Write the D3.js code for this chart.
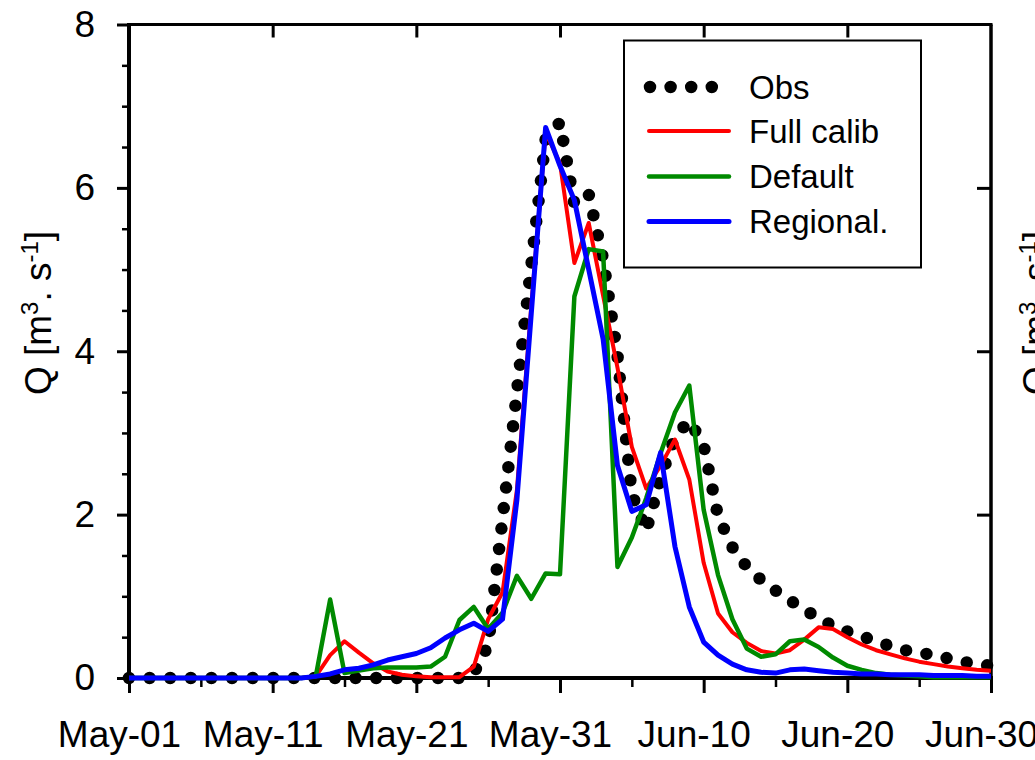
<!DOCTYPE html>
<html><head><meta charset="utf-8">
<script src="https://cdn.jsdelivr.net/npm/d3@7"></script>
<style>
body{margin:0;background:#fff}
svg{display:block}
text{font-family:"Liberation Sans",Arial,Helvetica,sans-serif;fill:#000}
</style>
</head><body>
<svg id="c" width="1035" height="760"></svg>
<script>
// ---- data (daily, May-01 .. Jun-30) ----
const startDate = new Date(2010, 4, 1);
const obs = [0,0,0,0,0,0,0,0,0,0,0,0,0,0,0,0,0,0,0,0,0,0,0,0,
  0.06,0.4,1.95,3.5,5.05,6.6,6.8,5.8,5.92,5.13,3.95,2.25,1.8,2.45,2.95,3.15,2.85,1.98,1.6,1.36,
  1.2,1.07,0.95,0.84,0.73,0.64,0.57,0.51,0.45,0.39,0.34,0.31,0.28,0.24,0.2,0.17,0.15];
const fullCalib = [0,0,0,0,0,0,0,0,0,0,0,0,0,
  0.02,0.28,0.45,0.31,0.18,0.08,0.04,0.02,0.01,0.01,0.01,0.14,0.72,1.05,2.3,4.55,6.68,6.3,5.08,5.57,4.68,
  3.8,2.83,2.32,2.6,2.92,2.43,1.41,0.79,0.56,0.43,0.33,0.3,0.34,0.47,0.62,0.6,0.5,0.41,0.34,0.29,0.24,
  0.2,0.17,0.14,0.12,0.1,0.09];
const defaultRun = [0,0,0,0,0,0,0,0,0,0,0,0,0,
  0.02,0.96,0.06,0.09,0.12,0.13,0.13,0.13,0.14,0.26,0.71,0.87,0.6,0.8,1.25,0.97,1.28,1.27,4.67,5.25,5.22,
  1.36,1.72,2.2,2.75,3.25,3.58,2.06,1.26,0.72,0.36,0.26,0.29,0.45,0.47,0.38,0.25,0.15,0.1,0.06,0.04,0.03,
  0.02,0.01,0.01,0.01,0.01,0.01];
const regional = [0,0,0,0,0,0,0,0,0,0,0,0,0,
  0.02,0.05,0.1,0.12,0.16,0.22,0.26,0.3,0.37,0.49,0.59,0.67,0.57,0.72,2.18,4.46,6.74,6.27,5.85,5.0,4.15,
  2.6,2.04,2.12,2.76,1.61,0.87,0.44,0.28,0.17,0.1,0.07,0.06,0.1,0.11,0.09,0.07,0.06,0.05,0.05,0.04,0.04,
  0.04,0.03,0.03,0.03,0.02,0.02];
const seriesNames = ["Obs", "Full calib", "Default", "Regional."];
const xTickLabels = ["May-01", "May-11", "May-21", "May-31", "Jun-10", "Jun-20", "Jun-30"];
const yTicks = [0, 2, 4, 6, 8];

// ---- layout ----
const dates = d3.range(obs.length).map(i => d3.timeDay.offset(startDate, i));
const L = 129, R = 991, T = 24.5, B = 678;
const svg = d3.select("#c");
const x = d3.scaleTime().domain([startDate, d3.timeDay.offset(startDate, 60)]).range([L, R]);
const y = d3.scaleLinear().domain([0, 8]).range([B, T]);
const majorDates = d3.range(0, 61, 10).map(i => d3.timeDay.offset(startDate, i));
const minorDates = d3.range(5, 61, 10).map(i => d3.timeDay.offset(startDate, i));
const minorY = d3.range(0, 8.01, 0.5).filter(v => v % 2 !== 0);

function styleAxis(g, w) {
  g.select(".domain").remove();
  g.selectAll(".tick line").attr("stroke", "#000").attr("stroke-width", w);
}

// left axis
svg.append("g").attr("transform", `translate(${L},0)`)
  .call(d3.axisLeft(y).tickValues(yTicks).tickSize(12).tickPadding(22).tickFormat(d3.format("d")))
  .call(g => { styleAxis(g, 3); g.selectAll("text").attr("font-size", 37).attr("dy", "0.32em")
      .style("font-family", '"Liberation Sans",Arial,sans-serif'); });
svg.append("g").attr("transform", `translate(${L},0)`)
  .call(d3.axisLeft(y).tickValues(minorY).tickSize(7).tickFormat(""))
  .call(g => styleAxis(g, 2.5));
// right axis (inward)
svg.append("g").attr("transform", `translate(${R},0)`)
  .call(d3.axisLeft(y).tickValues([2, 4, 6]).tickSize(14).tickFormat(""))
  .call(g => styleAxis(g, 3));
// bottom axis
svg.append("g").attr("transform", `translate(0,${B})`)
  .call(d3.axisBottom(x).tickValues(majorDates).tickSize(15).tickFormat((d, i) => xTickLabels[i]))
  .call(g => { styleAxis(g, 3); g.selectAll("text").attr("font-size", 37).attr("y", 69).attr("dy", 0).attr("dx", -10)
      .style("font-family", '"Liberation Sans",Arial,sans-serif'); });
svg.append("g").attr("transform", `translate(0,${B})`)
  .call(d3.axisBottom(x).tickValues(minorDates).tickSize(9).tickFormat(""))
  .call(g => styleAxis(g, 2.5));
// top axis (inward)
svg.append("g").attr("transform", `translate(0,${T})`)
  .call(d3.axisBottom(x).tickValues(majorDates.slice(1, -1)).tickSize(13).tickFormat(""))
  .call(g => styleAxis(g, 3));

// frame
svg.append("line").attr("x1", L).attr("x2", L).attr("y1", T - 1.5).attr("y2", B + 2).attr("stroke", "#000").attr("stroke-width", 4);
svg.append("line").attr("x1", L - 2).attr("x2", R + 2).attr("y1", B).attr("y2", B).attr("stroke", "#000").attr("stroke-width", 4);
svg.append("line").attr("x1", L).attr("x2", R + 1.5).attr("y1", T).attr("y2", T).attr("stroke", "#000").attr("stroke-width", 3);
svg.append("line").attr("x1", R).attr("x2", R).attr("y1", T).attr("y2", B).attr("stroke", "#000").attr("stroke-width", 3.5);

// y-axis titles (left and clipped right copy)
function yTitle(cx) {
  const t = svg.append("text").attr("transform", `translate(${cx},313) rotate(-90)`)
    .attr("text-anchor", "middle").attr("font-size", 37);
  t.append("tspan").text("Q [m");
  t.append("tspan").attr("baseline-shift", "super").attr("font-size", 24).text("3");
  t.append("tspan").text(". s");
  t.append("tspan").attr("baseline-shift", "super").attr("font-size", 24).text("-1");
  t.append("tspan").text("]");
}
yTitle(51);
yTitle(1049);

// series
const line = v => d3.line().x((d, i) => x(dates[i])).y(d => y(d))(v);
svg.append("path").attr("d", line(obs)).attr("fill", "none").attr("stroke", "#000")
  .attr("stroke-width", 12.5).attr("stroke-linecap", "round").attr("stroke-dasharray", "0 20.6");
const simSeries = [
  {v: fullCalib, c: "#ff0000", w: 4},
  {v: defaultRun, c: "#008a00", w: 4.5},
  {v: regional, c: "#0000ff", w: 5}
];
simSeries.forEach(s => svg.append("path").attr("d", line(s.v)).attr("fill", "none")
  .attr("stroke", s.c).attr("stroke-width", s.w).attr("stroke-linejoin", "round"));

// legend
const lg = svg.append("g");
lg.append("rect").attr("x", 624).attr("y", 40.5).attr("width", 297).attr("height", 227)
  .attr("fill", "#fff").attr("stroke", "#000").attr("stroke-width", 2);
const legY = [87, 131, 176.5, 221.5];
lg.append("line").attr("x1", 650).attr("x2", 712).attr("y1", legY[0]).attr("y2", legY[0])
  .attr("stroke", "#000").attr("stroke-width", 12.5).attr("stroke-linecap", "round").attr("stroke-dasharray", "0 20.6");
simSeries.forEach((s, i) => lg.append("line").attr("x1", 649).attr("x2", 729)
  .attr("y1", legY[i + 1]).attr("y2", legY[i + 1]).attr("stroke", s.c).attr("stroke-width", s.w).attr("stroke-linecap", "round"));
seriesNames.forEach((n, i) => lg.append("text").attr("x", 749).attr("y", legY[i] + 11.5)
  .attr("font-size", 33).text(n));
</script>
</body></html>
